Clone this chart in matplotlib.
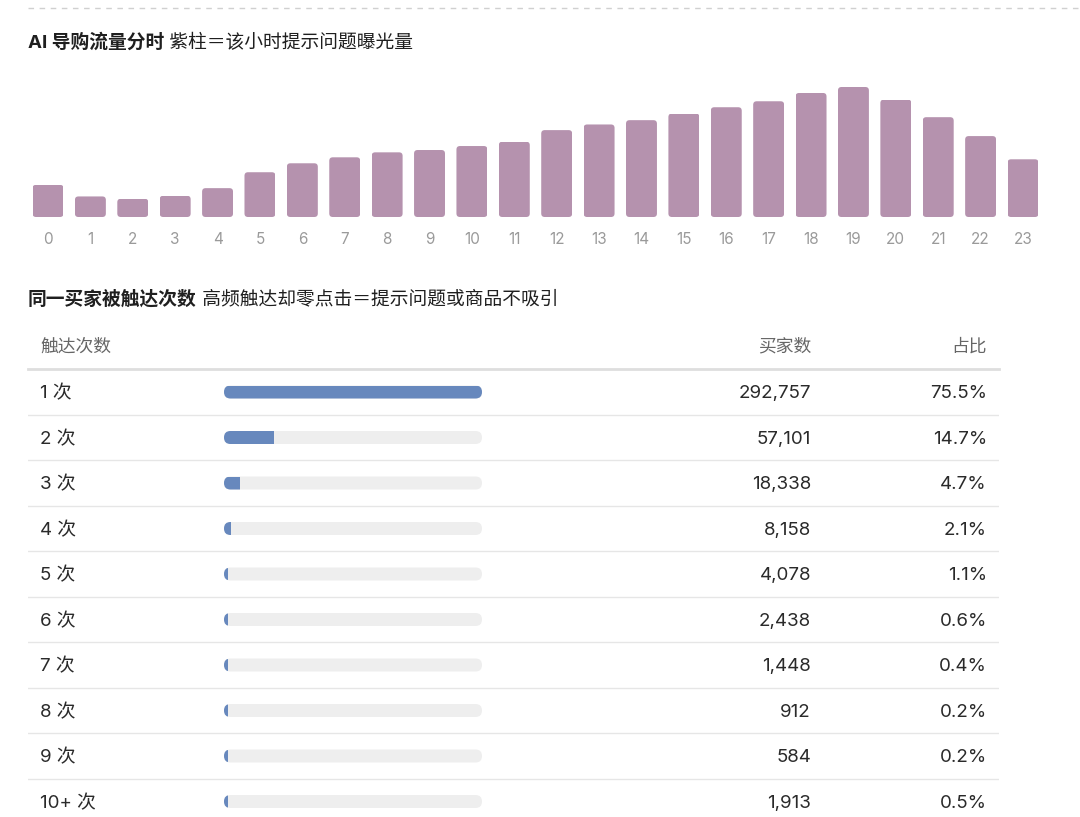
import matplotlib
matplotlib.use('Agg')
import matplotlib.pyplot as plt
from matplotlib.patches import FancyBboxPatch
from matplotlib.lines import Line2D

# Latin glyphs from Inter, Chinese falls through to Noto CJK
plt.rcParams['font.family'] = ['Inter', 'Noto Sans CJK SC', 'DejaVu Sans']

# hourly exposure of prompt questions (relative bar heights)
hours = list(range(24))
exposure = [97, 62, 55, 64, 87, 135, 162, 180, 195, 202, 214, 227,
            262, 279, 292, 312, 331, 349, 374, 392, 354, 301, 244, 174]

# reach-count distribution
reach_labels = ['1 次', '2 次', '3 次', '4 次', '5 次', '6 次', '7 次', '8 次', '9 次', '10+ 次']
buyers = [292757, 57101, 18338, 8158, 4078, 2438, 1448, 912, 584, 1913]
share = [75.5, 14.7, 4.7, 2.1, 1.1, 0.6, 0.4, 0.2, 0.2, 0.5]

W, H = 1080, 817
fig = plt.figure(figsize=(W / 100, H / 100), dpi=100)
fig.patch.set_facecolor('white')

def box(x0, y0, x1, y1):
    # pixel box (from top-left) -> figure fraction rect
    return [x0 / W, 1 - y1 / H, (x1 - x0) / W, (y1 - y0) / H]

# dashed separator at the very top
fig.add_artist(Line2D([28 / W, 1.0], [1 - 8 / H] * 2, color='#d0d0d0', lw=1,
                      linestyle=(0, (4, 4)), transform=fig.transFigure))

ax_title = fig.add_axes([0, 0, 1, 1], facecolor='none')
ax_title.axis('off')

# --- hourly bars ---
tsize = 13.5
t1 = fig.text(28 / W, 1 - 43 / H, 'AI 导购流量分时', fontsize=tsize, weight='bold',
              color='#1f1f1f', va='center', ha='left')
ax_title.annotate(' 紫柱＝该小时提示问题曝光量', xy=(1, 0.5), xycoords=t1,
                  fontsize=tsize, color='#1f1f1f', va='center', ha='left')

top_px, bot_px = 70, 217
left_px, right_px = 26.8, 1044.2
ax1 = fig.add_axes(box(left_px, top_px, right_px, bot_px))
ymax = max(exposure) * (bot_px - top_px) / 130.0
ax1.set_xlim(-0.5, 23.5)
ax1.set_ylim(0, ymax)
bars = ax1.bar(hours, exposure, width=0.73, color='#b592ae', linewidth=0)

xu = 24 / (right_px - left_px)        # x data units per pixel
yu = ymax / (bot_px - top_px)         # y data units per pixel
r = 3.5 * xu
for rect in bars:
    clip = FancyBboxPatch((rect.get_x(), rect.get_y()), rect.get_width(), rect.get_height(),
                          boxstyle=f'round,pad=0,rounding_size={r}',
                          mutation_aspect=yu / xu, transform=ax1.transData)
    rect.set_clip_path(clip)

ax1.set_xticks(hours)
ax1.set_xticklabels([str(h) for h in hours], color='#9a9a9a', fontsize=11)
ax1.tick_params(axis='x', length=0, pad=10.5)
ax1.set_yticks([])
for s in ax1.spines.values():
    s.set_visible(False)
ax1.patch.set_alpha(0)

# --- reach table ---
t2 = fig.text(28 / W, 1 - 299 / H, '同一买家被触达次数', fontsize=tsize, weight='bold',
              color='#1f1f1f', va='center', ha='left')
ax_title.annotate(' 高频触达却零点击＝提示问题或商品不吸引', xy=(1, 0.5), xycoords=t2,
                  fontsize=tsize, color='#1f1f1f', va='center', ha='left')

pitch = 45.5
row0 = 392
tab_top = row0 - pitch / 2
ylo = (H - row0) / pitch
ax2 = fig.add_axes(box(28, tab_top, 999, H))
ax2.set_xlim(28, 999)
ax2.set_ylim(ylo, -0.5)
ax2.axis('off')

hdr_y = -0.98
ax2.text(40, hdr_y, '触达次数', fontsize=12.8, color='#666666', va='center', ha='left')
ax2.text(811, hdr_y, '买家数', fontsize=12.8, color='#666666', va='center', ha='right')
ax2.text(987, hdr_y, '占比', fontsize=12.8, color='#666666', va='center', ha='right')
ax2.axhline(-0.5, color='#dedede', lw=2, clip_on=False)

rsize = 13.5
ty = 0.04   # small nudge so the text sits level with the bars
for i, (lab, b, p) in enumerate(zip(reach_labels, buyers, share)):
    ax2.text(40, i + ty, lab, fontsize=rsize, color='#2a2a2a', va='center', ha='left')
    ax2.text(811, i + ty, f'{b:,}', fontsize=rsize, color='#2a2a2a', va='center', ha='right')
    ax2.text(987, i + ty, f'{p:.1f}%', fontsize=rsize, color='#2a2a2a', va='center', ha='right')
    if i < len(reach_labels) - 1:
        ax2.axhline(i + 0.5, color='#e6e6e6', lw=1)

# progress bars
bar_l, bar_r = 224, 482
ax3 = fig.add_axes(box(bar_l, tab_top, bar_r, H))
bmax = max(buyers)
ax3.set_xlim(0, bmax)
ax3.set_ylim(ylo, -0.5)
ax3.axis('off')
bh_px = 13
bh = bh_px / pitch
xu3 = bmax / (bar_r - bar_l)
yu3 = 1 / pitch
rr = bh_px / 2 * xu3
# tiny shares still show a sliver of the rounded cap, like the page does
min_w = 3.5 * xu3
fills = ax3.barh(range(len(buyers)), [max(b, min_w) for b in buyers], height=bh,
                 color='#6788bd', linewidth=0, zorder=3)
for i, rect in enumerate(fills):
    track = FancyBboxPatch((0, i - bh / 2), bmax, bh,
                           boxstyle=f'round,pad=0,rounding_size={rr}',
                           mutation_aspect=yu3 / xu3, transform=ax3.transData,
                           facecolor='#eeeeee', edgecolor='none', zorder=2)
    ax3.add_patch(track)
    rect.set_clip_path(track)

fig.savefig('out.png', dpi=100)
